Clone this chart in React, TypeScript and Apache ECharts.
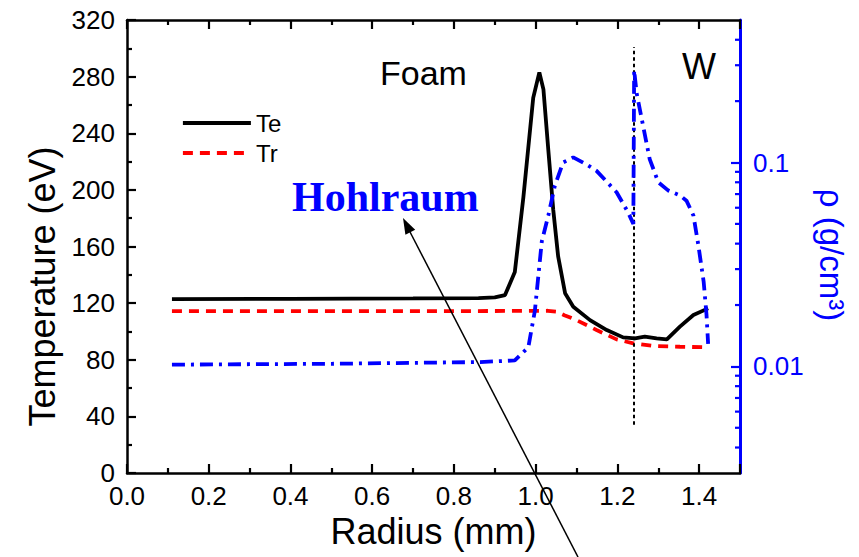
import React, { useEffect, useRef } from 'react';
import * as echarts from 'echarts';

// Radius (mm) and electron temperature Te (eV)
const teRadius = [0.11, 0.4, 0.7, 0.86, 0.9, 0.925, 0.949, 0.97, 0.994, 1.009, 1.019, 1.031, 1.043, 1.055, 1.072, 1.092, 1.133, 1.174, 1.214, 1.243, 1.267, 1.296, 1.321, 1.353, 1.386, 1.422];
const teValues = [122.8, 123, 123.3, 123.6, 124, 125.7, 142, 195, 265, 283, 271, 228, 186, 153, 127, 117.5, 108, 101, 95.8, 95.1, 96.3, 95.1, 94.4, 103.4, 111.6, 116.3];

// Radiation temperature Tr (eV)
const trRadius = [0.11, 0.5, 0.86, 1.03, 1.051, 1.07, 1.1, 1.149, 1.198, 1.239, 1.288, 1.353, 1.418];
const trValues = [114.3, 114.4, 114.4, 114.6, 114, 111.5, 108, 101, 94.4, 91.6, 89.7, 89.2, 88.8];

// Density rho (g/cm3), log axis
const rhoRadius = [0.11, 0.5, 0.864, 0.949, 0.982, 0.998, 1.015, 1.031, 1.047, 1.067, 1.092, 1.124, 1.149, 1.198, 1.226, 1.239, 1.241, 1.247, 1.263, 1.279, 1.3, 1.324, 1.353, 1.369, 1.386, 1.398, 1.411, 1.418, 1.422];
const rhoValues = [0.0102, 0.0103, 0.0105, 0.0107, 0.0124, 0.0187, 0.041, 0.055, 0.077, 0.1, 0.106, 0.098, 0.091, 0.0715, 0.057, 0.05, 0.284, 0.219, 0.151, 0.104, 0.08, 0.073, 0.069, 0.065, 0.055, 0.0394, 0.0261, 0.018, 0.0129];

// Interface marker (W boundary)
const interfaceRadius = 1.24;
const interfaceTempRange = [34, 301];

// Axes
const X_MIN = 0;
const X_MAX = 1.5;
const X_INTERVAL = 0.2;
const T_MIN = 0;
const T_MAX = 320;
const T_INTERVAL = 40;
const RHO_MIN = 0.003;
const RHO_MAX = 0.5;
const xLabels = ['0.0', '0.2', '0.4', '0.6', '0.8', '1.0', '1.2', '1.4'];
const rhoLabels = [0.01, 0.1];
const rhoMinorTicks = [0.004, 0.005, 0.006, 0.007, 0.008, 0.009, 0.02, 0.03, 0.04, 0.05, 0.06, 0.07, 0.08, 0.09, 0.2, 0.3, 0.4];

const SANS = '"Liberation Sans", Arial, Helvetica, sans-serif';
const SERIF = '"Liberation Serif", "Times New Roman", serif';
const BLUE = '#0000ff';

export default function App() {
  const ref = useRef<HTMLDivElement>(null);

  useEffect(() => {
    if (!ref.current) return;
    const chart = echarts.init(ref.current, null, { renderer: 'svg' });

    const zip = (xs: number[], ys: number[]) => xs.map((x, i) => [x, ys[i]]);

    const xAxisCommon = {
      type: 'value',
      min: X_MIN,
      max: X_MAX,
      interval: X_INTERVAL,
      axisLine: { show: true, onZero: false, lineStyle: { color: '#000', width: 2.5 } },
      axisTick: { show: true, inside: true, length: 9, lineStyle: { color: '#000', width: 2.2 } },
      minorTick: { show: true, splitNumber: 2, length: 5, lineStyle: { color: '#000', width: 2.2 } },
      splitLine: { show: false },
      minorSplitLine: { show: false },
    };

    const option: any = {
      animation: false,
      backgroundColor: '#fff',
      grid: { left: 127, right: 119, top: 20, bottom: 84, containLabel: false },
      legend: {
        data: ['Te', 'Tr'],
        orient: 'vertical',
        left: 181,
        top: 111,
        padding: 0,
        itemWidth: 68,
        itemHeight: 14,
        itemGap: 6,
        itemStyle: { opacity: 0 },
        lineStyle: { width: 3.8 },
        textStyle: { fontFamily: SANS, fontSize: 24, lineHeight: 24, color: '#000' },
      },
      xAxis: [
        {
          ...xAxisCommon,
          position: 'bottom',
          name: 'Radius (mm)',
          nameLocation: 'middle',
          nameGap: 30,
          nameTextStyle: { fontFamily: SANS, fontSize: 36, color: '#000', verticalAlign: 'top' },
          axisLabel: {
            show: true,
            margin: 10,
            fontFamily: SANS,
            fontSize: 26,
            color: '#000',
            formatter: (v: number) => {
              const s = v.toFixed(1);
              return xLabels.includes(s) ? s : '';
            },
          },
        },
        {
          ...xAxisCommon,
          position: 'top',
          axisLabel: { show: false },
        },
      ],
      yAxis: [
        {
          type: 'value',
          min: T_MIN,
          max: T_MAX,
          interval: T_INTERVAL,
          position: 'left',
          name: 'Temperature (eV)',
          nameLocation: 'middle',
          nameGap: 62,
          nameTextStyle: { fontFamily: SANS, fontSize: 36, color: '#000', padding: [0, 80, 0, 0] },
          axisLine: { show: true, onZero: false, lineStyle: { color: '#000', width: 2.5 } },
          axisTick: { show: true, inside: true, length: 9, lineStyle: { color: '#000', width: 2.2 } },
          minorTick: { show: true, splitNumber: 2, length: 5, lineStyle: { color: '#000', width: 2.2 } },
          axisLabel: { margin: 12, fontFamily: SANS, fontSize: 26, color: '#000' },
          splitLine: { show: false },
        },
        {
          type: 'log',
          logBase: 10,
          min: RHO_MIN,
          max: RHO_MAX,
          position: 'right',
          name: 'ρ (g/cm³)',
          nameLocation: 'middle',
          nameRotate: -90,
          nameGap: 70,
          nameTextStyle: { fontFamily: SANS, fontSize: 33, color: BLUE, padding: [0, 0, 0, 17] },
          axisLine: { show: true, onZero: false, lineStyle: { color: BLUE, width: 3 } },
          axisTick: { show: true, inside: true, length: 9, lineStyle: { color: BLUE, width: 2.2 } },
          axisLabel: {
            margin: 13,
            fontFamily: SANS,
            fontSize: 26,
            color: BLUE,
            showMinLabel: false,
            showMaxLabel: false,
            formatter: (v: number) => {
              const r = Number(v.toPrecision(3));
              return rhoLabels.some((l) => Math.abs(l - r) < 1e-9) ? String(r) : '';
            },
          },
          splitLine: { show: false },
        },
      ],
      series: [
        {
          name: 'Te',
          type: 'line',
          xAxisIndex: 0,
          yAxisIndex: 0,
          data: zip(teRadius, teValues),
          symbol: 'none',
          smooth: false,
          lineStyle: { color: '#000', width: 3.8, type: 'solid' },
          itemStyle: { color: '#000' },
          z: 4,
          markLine: {
            silent: true,
            symbol: 'none',
            label: { show: false },
            lineStyle: { color: '#000', width: 2, type: [3.5, 3] },
            data: [[{ coord: [interfaceRadius, interfaceTempRange[0]] }, { coord: [interfaceRadius, interfaceTempRange[1]] }]],
          },
        },
        {
          name: 'Tr',
          type: 'line',
          xAxisIndex: 0,
          yAxisIndex: 0,
          data: zip(trRadius, trValues),
          symbol: 'none',
          smooth: false,
          lineStyle: { color: '#ff0000', width: 3.8, type: [10, 7] },
          itemStyle: { color: '#ff0000' },
          z: 3,
        },
        {
          name: 'rho',
          type: 'line',
          xAxisIndex: 0,
          yAxisIndex: 1,
          data: zip(rhoRadius, rhoValues),
          symbol: 'none',
          smooth: false,
          lineStyle: { color: BLUE, width: 3.8, type: [13, 6, 3, 6] },
          itemStyle: { color: BLUE },
          z: 5,
        },
        {
          name: 'rhoMinorTicks',
          type: 'custom',
          xAxisIndex: 0,
          yAxisIndex: 1,
          silent: true,
          clip: false,
          data: rhoMinorTicks.map((v) => [X_MAX, v]),
          renderItem: (params: any, api: any) => {
            const p = api.coord([api.value(0), api.value(1)]);
            return {
              type: 'line',
              shape: { x1: p[0] - 5, y1: p[1], x2: p[0], y2: p[1] },
              style: { stroke: BLUE, lineWidth: 2.2 },
            };
          },
          z: 6,
        },
      ],
      graphic: [
        {
          type: 'text',
          z: 100,
          style: { text: 'Foam', x: 380, y: 73, font: `34px ${SANS}`, fill: '#000', textVerticalAlign: 'middle' },
        },
        {
          type: 'text',
          z: 100,
          style: { text: 'W', x: 682, y: 66, font: `36px ${SANS}`, fill: '#000', textVerticalAlign: 'middle' },
        },
        {
          type: 'text',
          z: 100,
          style: { text: 'Hohlraum', x: 292, y: 197, font: `bold 42px ${SERIF}`, fill: BLUE, textVerticalAlign: 'middle' },
        },
        {
          type: 'line',
          z: 100,
          shape: { x1: 578, y1: 557, x2: 409, y2: 230 },
          style: { stroke: '#000', lineWidth: 1.5 },
        },
        {
          type: 'polygon',
          z: 100,
          shape: { points: [[403, 218], [405.4, 234.7], [415.2, 229.7]] },
          style: { fill: '#000' },
        },
      ],
    };

    chart.setOption(option);
    return () => chart.dispose();
  }, []);

  return (
    <div
      ref={ref}
      style={{ position: 'fixed', left: 0, top: 0, width: 859, height: 557, background: '#fff' }}
    />
  );
}
